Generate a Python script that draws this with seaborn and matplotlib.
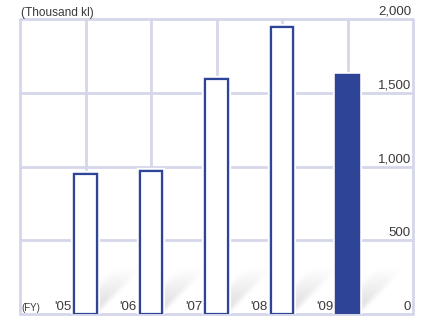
import matplotlib
matplotlib.use("Agg")
import matplotlib.pyplot as plt
import matplotlib.patheffects as pe
import matplotlib.transforms as mtransforms
import numpy as np
import seaborn as sns
import pandas as pd

# Fiscal years and volumes (thousand kl)
years = ["'05", "'06", "'07", "'08", "'09"]
volumes = [950, 970, 1590, 1945, 1620]
y_ticks = [0, 500, 1000, 1500, 2000]

BLUE = "#2e4597"
GRID = "#d5d6ea"
TEXT = "#3a3a3a"

sns.set_theme(style="white")
plt.rcParams["font.family"] = ["Liberation Sans", "DejaVu Sans"]

fig = plt.figure(figsize=(4.26, 3.23), dpi=100)
ax = fig.add_axes([20 / 426, 9 / 323, 393 / 426, 295 / 323])

df = pd.DataFrame({"year": years, "volume": volumes})
sns.barplot(data=df, x="year", y="volume", ax=ax, width=0.35,
            color="white", edgecolor=BLUE, linewidth=1.6, zorder=3)

# last year is solid
for i, patch in enumerate(ax.patches):
    if i == len(ax.patches) - 1:
        patch.set_facecolor(BLUE)
    patch.set_path_effects([pe.withStroke(linewidth=4.5, foreground="white"),
                            pe.Normal()])

ax.set_xlim(-1, len(years))
ax.set_ylim(0, 2000)
ax.set_xticks(range(-1, len(years) + 1))
ax.set_yticks(y_ticks)
ax.grid(True, color=GRID, linewidth=2, zorder=0)
for ln in ax.get_xgridlines() + ax.get_ygridlines():
    ln.set_clip_on(False)
ax.tick_params(left=False, bottom=False, labelleft=False, labelbottom=False)
for s in ax.spines.values():
    s.set_visible(False)
ax.set_xlabel("")
ax.set_ylabel("")


def smoothstep(v, a, b):
    t = np.clip((v - a) / (b - a), 0, 1)
    return t * t * (3 - 2 * t)


# soft diagonal floor shadows cast by each bar (built in pixel space)
fig.canvas.draw()
inv = ax.transData.inverted()
W, H = 64, 48
dx, dy = np.meshgrid(np.arange(W) + 0.5, np.arange(H) + 0.5)
for patch in list(ax.patches):
    xl, xr = patch.get_x(), patch.get_x() + patch.get_width()
    (pl, pb), (pr, _) = ax.transData.transform([(xl, 0), (xr, 0)])
    bw = pr - pl
    d = dy - dx
    alpha = (smoothstep(d, -4, 8) * (1 - smoothstep(d, bw - 4, bw + 10))
             * np.clip(1 - dy / 46, 0, 1) ** 1.1 * 0.3)
    rgba = np.zeros((H, W, 4))
    rgba[..., :3] = 0.5
    rgba[..., 3] = alpha
    (x0, y0), (x1, y1) = inv.transform([(pr, pb), (pr + W, pb + H)])
    ax.imshow(rgba, extent=(x0, x1, y0, y1), origin="lower",
              aspect="auto", interpolation="bilinear", zorder=1)
ax.set_xlim(-1, len(years))
ax.set_ylim(0, 2000)

# value axis labels, right-aligned inside the frame, sitting on each gridline
off = mtransforms.offset_copy(ax.transData, fig=fig, x=-2, y=1, units="dots")
for v in y_ticks:
    ax.text(len(years), v, f"{v:,}", transform=off, ha="right", va="bottom",
            fontsize=9.5, color=TEXT, zorder=5)

# year labels just left of each bar
off2 = mtransforms.offset_copy(ax.transData, fig=fig, x=-3, y=1, units="dots")
for i, y in enumerate(years):
    ax.text(i - 0.175, 0, y, transform=off2, ha="right", va="bottom",
            fontsize=9.5, color=TEXT, zorder=5)

fig.text(21 / 426, 1 - 19 / 323, "(Thousand kl)", ha="left", va="bottom",
         fontsize=8.6, color=TEXT)
fig.text(21 / 426, 1 - 313 / 323, "(FY)", ha="left", va="bottom",
         fontsize=7, color=TEXT)

fig.savefig("out.png", dpi=100, facecolor="white")
